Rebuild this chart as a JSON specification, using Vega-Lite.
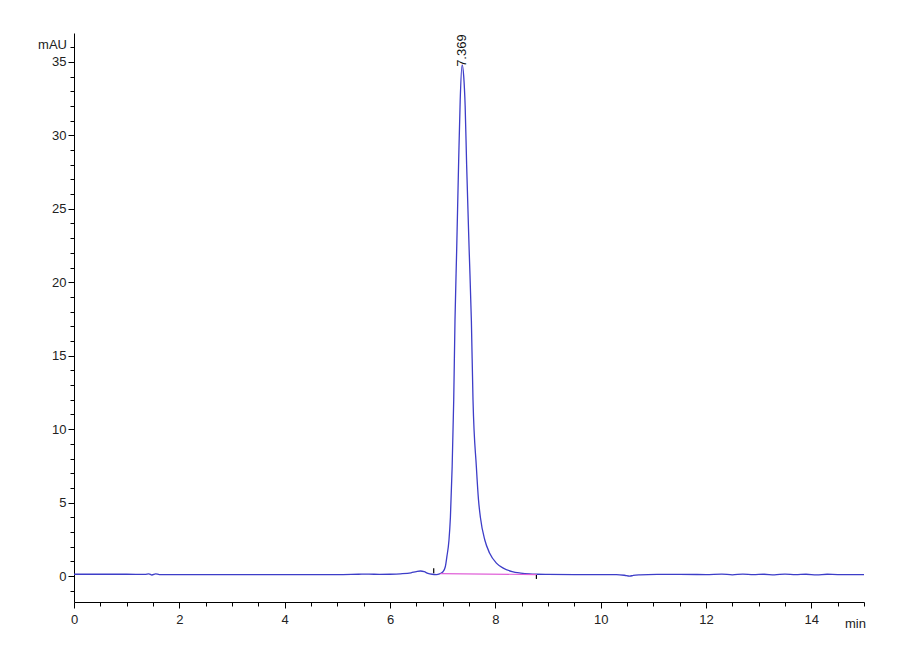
{
  "$schema": "https://vega.github.io/schema/vega-lite/v6.json",
  "description": "HPLC chromatogram, single peak at 7.369 min",
  "background": "white",
  "autosize": {"type": "none"},
  "padding": {"left": 74, "top": 33, "right": 36, "bottom": 58},
  "width": 790,
  "height": 569,
  "datasets": {
    "trace": [
      {"t": 0.0, "v": 0.12}, {"t": 0.5, "v": 0.12}, {"t": 1.0, "v": 0.12}, {"t": 1.35, "v": 0.11},
      {"t": 1.42, "v": 0.15}, {"t": 1.48, "v": 0.07}, {"t": 1.55, "v": 0.14}, {"t": 1.62, "v": 0.1},
      {"t": 2.0, "v": 0.1}, {"t": 3.0, "v": 0.1}, {"t": 4.0, "v": 0.1}, {"t": 5.0, "v": 0.1},
      {"t": 5.4, "v": 0.12}, {"t": 5.6, "v": 0.13}, {"t": 5.8, "v": 0.11}, {"t": 6.0, "v": 0.12},
      {"t": 6.2, "v": 0.15}, {"t": 6.4, "v": 0.22}, {"t": 6.5, "v": 0.3}, {"t": 6.58, "v": 0.34},
      {"t": 6.65, "v": 0.29}, {"t": 6.72, "v": 0.18}, {"t": 6.8, "v": 0.12}, {"t": 6.88, "v": 0.1},
      {"t": 6.94, "v": 0.14}, {"t": 6.98, "v": 0.22}, {"t": 7.006, "v": 0.29}, {"t": 7.05, "v": 0.63},
      {"t": 7.08, "v": 1.32}, {"t": 7.12, "v": 2.45}, {"t": 7.147, "v": 4.0}, {"t": 7.18, "v": 7.42},
      {"t": 7.21, "v": 12.0}, {"t": 7.234, "v": 17.4}, {"t": 7.266, "v": 22.2}, {"t": 7.304, "v": 28.3},
      {"t": 7.333, "v": 32.4}, {"t": 7.369, "v": 34.8}, {"t": 7.4, "v": 34.0}, {"t": 7.427, "v": 32.0},
      {"t": 7.455, "v": 28.0}, {"t": 7.503, "v": 22.2}, {"t": 7.545, "v": 17.4}, {"t": 7.576, "v": 12.0},
      {"t": 7.64, "v": 7.42}, {"t": 7.68, "v": 5.2}, {"t": 7.716, "v": 4.0}, {"t": 7.8, "v": 2.45},
      {"t": 7.89, "v": 1.57}, {"t": 8.02, "v": 0.88}, {"t": 8.15, "v": 0.54}, {"t": 8.32, "v": 0.3},
      {"t": 8.48, "v": 0.2}, {"t": 8.65, "v": 0.14}, {"t": 8.8, "v": 0.12}, {"t": 9.0, "v": 0.11},
      {"t": 9.5, "v": 0.1}, {"t": 10.0, "v": 0.1}, {"t": 10.3, "v": 0.1}, {"t": 10.45, "v": 0.05},
      {"t": 10.55, "v": -0.01}, {"t": 10.62, "v": 0.04}, {"t": 10.75, "v": 0.08}, {"t": 10.9, "v": 0.1},
      {"t": 11.5, "v": 0.11}, {"t": 12.0, "v": 0.1}, {"t": 12.3, "v": 0.13}, {"t": 12.5, "v": 0.08},
      {"t": 12.7, "v": 0.13}, {"t": 12.9, "v": 0.09}, {"t": 13.1, "v": 0.12}, {"t": 13.3, "v": 0.08},
      {"t": 13.5, "v": 0.13}, {"t": 13.7, "v": 0.09}, {"t": 13.9, "v": 0.12}, {"t": 14.1, "v": 0.08},
      {"t": 14.3, "v": 0.12}, {"t": 14.5, "v": 0.1}, {"t": 15.0, "v": 0.1}
    ],
    "baseline": [
      {"t": 6.96, "v": 0.16}, {"t": 8.78, "v": 0.1}
    ],
    "marks": [
      {"t": 6.83, "v": 0.18, "v2": 0.52},
      {"t": 8.78, "v": 0.07, "v2": -0.2}
    ],
    "peaks": [
      {"t": 7.369, "v": 34.8, "label": "7.369"}
    ]
  },
  "config": {
    "view": {"stroke": null},
    "axis": {
      "domainColor": "black",
      "tickColor": "black",
      "labelColor": "#222",
      "labelFont": "Liberation Sans",
      "labelFontSize": 13,
      "titleFont": "Liberation Sans",
      "titleFontSize": 13,
      "titleFontWeight": "normal",
      "titleColor": "#222",
      "grid": false,
      "labelOverlap": false,
      "labelFlush": false
    }
  },
  "encoding": {
    "x": {
      "field": "t",
      "type": "quantitative",
      "scale": {"domain": [0, 15], "nice": false, "zero": false},
      "axis": {
        "title": "min",
        "titleAngle": 0,
        "titleAlign": "center",
        "titleBaseline": "alphabetic",
        "titleX": 781,
        "titleY": 25,
        "values": [0, 0.5, 1, 1.5, 2, 2.5, 3, 3.5, 4, 4.5, 5, 5.5, 6, 6.5, 7, 7.5, 8, 8.5, 9, 9.5, 10, 10.5, 11, 11.5, 12, 12.5, 13, 13.5, 14, 14.5, 15],
        "labelExpr": "datum.value % 2 === 0 && datum.value < 15 ? format(datum.value, 'd') : ''",
        "tickSize": {"condition": {"test": "datum.value % 2 === 0", "value": 6}, "value": 4},
        "labelPadding": 5
      }
    },
    "y": {
      "field": "v",
      "type": "quantitative",
      "scale": {"domain": [-1.77, 36.97], "nice": false, "zero": false},
      "axis": {
        "title": "mAU",
        "titleAngle": 0,
        "titleAlign": "center",
        "titleBaseline": "alphabetic",
        "titleX": -22,
        "titleY": 15,
        "values": [-1, 0, 1, 2, 3, 4, 5, 6, 7, 8, 9, 10, 11, 12, 13, 14, 15, 16, 17, 18, 19, 20, 21, 22, 23, 24, 25, 26, 27, 28, 29, 30, 31, 32, 33, 34, 35, 36],
        "labelExpr": "datum.value % 5 === 0 ? format(datum.value, 'd') : ''",
        "tickSize": {"condition": {"test": "datum.value % 5 === 0", "value": 6}, "value": 4},
        "labelPadding": 2
      }
    }
  },
  "layer": [
    {
      "data": {"name": "trace"},
      "mark": {"type": "line", "color": "#3d3dc8", "strokeWidth": 1.3, "interpolate": "monotone"}
    },
    {
      "data": {"name": "baseline"},
      "mark": {"type": "line", "color": "#e060d8", "strokeWidth": 1.2}
    },
    {
      "data": {"name": "marks"},
      "mark": {"type": "rule", "color": "black", "strokeWidth": 1.2},
      "encoding": {"y2": {"field": "v2"}}
    },
    {
      "data": {"name": "peaks"},
      "mark": {"type": "text", "angle": 270, "align": "left", "baseline": "middle", "dx": -2, "font": "Liberation Sans", "fontSize": 13, "color": "#111"},
      "encoding": {"text": {"field": "label"}}
    }
  ]
}
